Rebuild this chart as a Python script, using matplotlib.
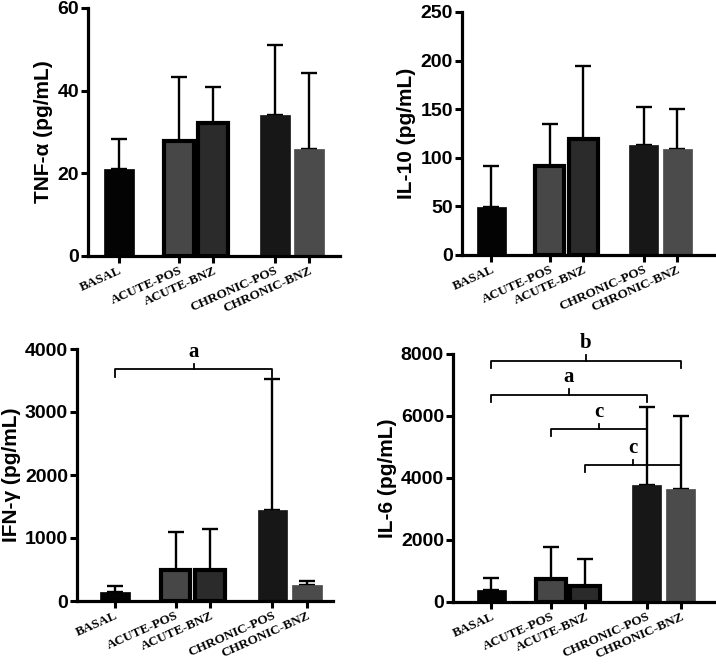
import numpy as np
import matplotlib
matplotlib.use('Agg')
import matplotlib.pyplot as plt
from matplotlib.transforms import ScaledTranslation

plt.rcParams['font.family'] = ['Liberation Sans', 'DejaVu Sans']
plt.rcParams['font.weight'] = 'bold'
plt.rcParams['axes.labelweight'] = 'bold'

# groups and bar colours
groups = ['BASAL', 'ACUTE-POS', 'ACUTE-BNZ', 'CHRONIC-POS', 'CHRONIC-BNZ']
positions = [0, 1.75, 2.75, 4.55, 5.55]
fills = ['#030303', '#474747', '#2b2b2b', '#171717', '#4b4b4b']
edges = ['#030303', '#000000', '#000000', '#171717', '#4b4b4b']
edge_w = [0.5, 3.0, 3.0, 0.5, 0.5]

# mean values and upper error bar ends (mean + SD)
tnf_mean = [21, 27.8, 32.2, 34, 26]
tnf_top = [28.2, 43.3, 41, 51, 44.2]
il10_mean = [49.5, 91.5, 119, 113, 109]
il10_top = [91.5, 135, 194, 152, 150]
ifn_mean = [150, 490, 500, 1450, 255]
ifn_top = [240, 1090, 1150, 3520, 320]
il6_mean = [400, 740, 520, 3770, 3640]
il6_top = [790, 1790, 1390, 6280, 6010]

# significance brackets: (from group, to group, height, letter)
ifn_brackets = [(0, 3, 3680, 'a')]
il6_brackets = [(0, 4, 7780, 'b'), (0, 3, 6680, 'a'), (1, 3, 5580, 'c'), (2, 4, 4420, 'c')]

panels = [
    dict(mean=tnf_mean, top=tnf_top, ylabel='TNF-α (pg/mL)', yticks=[0, 20, 40, 60],
         rect=[88, 8, 340, 256], xlim=(-0.9, 6.45), brackets=[]),
    dict(mean=il10_mean, top=il10_top, ylabel='IL-10 (pg/mL)', yticks=[0, 50, 100, 150, 200, 250],
         rect=[462, 12, 716, 255], xlim=(-0.87, 6.7), brackets=[]),
    dict(mean=ifn_mean, top=ifn_top, ylabel='IFN-γ (pg/mL)', yticks=[0, 1000, 2000, 3000, 4000],
         rect=[77, 349, 333, 601], xlim=(-1.1, 6.3), brackets=ifn_brackets),
    dict(mean=il6_mean, top=il6_top, ylabel='IL-6 (pg/mL)', yticks=[0, 2000, 4000, 6000, 8000],
         rect=[453, 354, 720, 602], xlim=(-1.12, 6.7), brackets=il6_brackets),
]

W, H = 716, 665
fig = plt.figure(figsize=(W / 100, H / 100), dpi=100)

for p in panels:
    x0, y0, x1, y1 = p['rect']
    ax = fig.add_axes([x0 / W, 1 - y1 / H, (x1 - x0) / W, (y1 - y0) / H])
    mean = np.array(p['mean'])
    top = np.array(p['top'])
    ax.errorbar(positions, mean, yerr=[np.zeros(5), top - mean], fmt='none',
                ecolor='black', elinewidth=1.7, capsize=5.5, capthick=1.7, zorder=1)
    ax.bar(positions, mean, width=0.86, color=fills, edgecolor=edges,
           linewidth=edge_w, zorder=2)

    ymax = p['yticks'][-1]
    ax.set_ylim(0, ymax)
    ax.set_xlim(*p['xlim'])
    ax.set_yticks(p['yticks'])
    ax.set_yticklabels([str(t) for t in p['yticks']], fontsize=14, fontweight='bold')
    ax.set_xticks(positions)
    ax.set_xticklabels(groups, rotation=24, ha='right', rotation_mode='anchor',
                       fontfamily='Liberation Serif', fontweight='bold', fontsize=9.5)
    off = ScaledTranslation(5 / 72, -1 / 72, fig.dpi_scale_trans)
    for lab in ax.get_xticklabels():
        lab.set_transform(lab.get_transform() + off)
    ax.set_ylabel(p['ylabel'], fontweight='bold', fontsize=15, labelpad=3)
    for s in ['top', 'right']:
        ax.spines[s].set_visible(False)
    for s in ['left', 'bottom']:
        ax.spines[s].set_linewidth(2.3)
    ax.tick_params(axis='both', direction='out', length=5, width=2.2, pad=1.5)

    leg = 0.03 * ymax
    for i, j, yb, letter in p['brackets']:
        xa, xb = positions[i], positions[j]
        xm = (xa + xb) / 2
        ax.plot([xa, xa, xb, xb], [yb - leg, yb, yb, yb - leg], color='black',
                lw=1.3, clip_on=False, zorder=3)
        ax.plot([xm, xm], [yb, yb + 0.022 * ymax], color='black', lw=1.3,
                clip_on=False, zorder=3)
        ax.text(xm, yb + 0.03 * ymax, letter, ha='center', va='bottom',
                fontfamily='Liberation Serif', fontweight='bold', fontsize=15,
                clip_on=False)

fig.savefig('out.png', dpi=100)
